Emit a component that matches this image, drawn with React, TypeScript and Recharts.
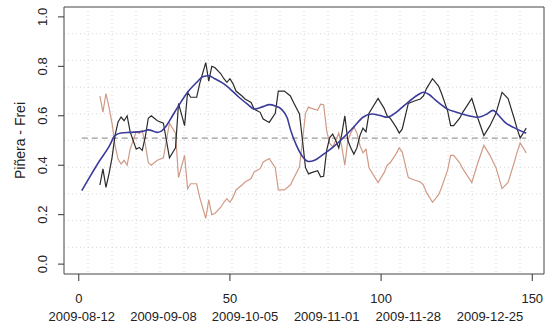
import {
  CartesianGrid,
  Line,
  LineChart,
  ReferenceArea,
  ReferenceLine,
  XAxis,
  YAxis,
} from "recharts";

// daily share series
const dailyDays = [
  7, 8, 9, 10, 11, 12, 13, 14, 15, 16, 17, 19, 20, 21, 22, 23, 24, 26, 28, 29,
  30, 32, 33, 35, 36, 37, 39, 40, 42, 43, 44, 45, 47, 48, 49, 50, 51, 52, 54,
  55, 57, 58, 60, 61, 63, 65, 66, 68, 70, 71, 73, 74, 75, 76, 77, 79, 80, 81,
  82, 83, 84, 85, 86, 87, 88, 89, 90, 91, 92, 93, 94, 95, 96, 99, 101, 102, 103,
  105, 106, 107, 109, 111, 113, 114, 115, 117, 119, 120, 122, 123, 124, 126,
  127, 130, 132, 134, 136, 138, 140, 142, 144, 145, 146, 148,
];

const pineraShare = [
  0.32, 0.385, 0.31, 0.365, 0.43, 0.52, 0.575, 0.595, 0.58, 0.6, 0.535, 0.465,
  0.472, 0.46, 0.515, 0.59, 0.6, 0.58, 0.57, 0.5, 0.43, 0.47, 0.65, 0.56, 0.695,
  0.675, 0.675, 0.73, 0.815, 0.74, 0.8, 0.795, 0.77, 0.75, 0.735, 0.75, 0.73,
  0.7, 0.68, 0.668, 0.654, 0.627, 0.614, 0.587, 0.573, 0.61, 0.7, 0.7, 0.68,
  0.655, 0.607, 0.5, 0.39, 0.365, 0.37, 0.378, 0.353, 0.355, 0.46, 0.512, 0.526,
  0.5, 0.47, 0.526, 0.6, 0.5, 0.47, 0.445, 0.47, 0.52, 0.55, 0.535, 0.61, 0.67,
  0.63, 0.6, 0.59, 0.553, 0.53, 0.547, 0.65, 0.66, 0.668, 0.68, 0.71, 0.75,
  0.72, 0.69, 0.62, 0.56, 0.56, 0.59, 0.614, 0.67, 0.59, 0.52, 0.56, 0.61,
  0.695, 0.67, 0.59, 0.547, 0.51, 0.55,
];

const freiShare = [
  0.68, 0.615, 0.69, 0.635, 0.57, 0.48, 0.425, 0.405, 0.42, 0.4, 0.465, 0.535,
  0.528, 0.54, 0.485, 0.41, 0.4, 0.42, 0.43, 0.5, 0.57, 0.53, 0.35, 0.44, 0.305,
  0.325, 0.325, 0.27, 0.185, 0.26, 0.2, 0.205, 0.23, 0.25, 0.265, 0.25, 0.27,
  0.3, 0.32, 0.332, 0.346, 0.373, 0.386, 0.413, 0.427, 0.39, 0.3, 0.3, 0.32,
  0.345, 0.393, 0.5, 0.61, 0.635, 0.63, 0.622, 0.647, 0.645, 0.54, 0.488, 0.474,
  0.5, 0.53, 0.474, 0.4, 0.5, 0.53, 0.555, 0.53, 0.48, 0.45, 0.465, 0.39, 0.33,
  0.37, 0.4, 0.41, 0.447, 0.47, 0.453, 0.35, 0.34, 0.332, 0.32, 0.29, 0.25,
  0.28, 0.31, 0.38, 0.44, 0.44, 0.41, 0.386, 0.33, 0.41, 0.48, 0.44, 0.39,
  0.305, 0.33, 0.41, 0.453, 0.49, 0.45,
];

// smoothed trend
const trendDays = [
  1, 4, 7, 10, 12, 14, 17, 21, 23, 26, 27, 29, 31, 33, 36, 39, 41, 43, 45, 48,
  50, 53, 56, 58, 61, 63, 65, 67, 69, 70, 72, 74, 76, 78, 81, 84, 87, 91, 94,
  97, 100, 102, 105, 108, 112, 114, 116, 118, 122, 125, 128, 132, 135, 137, 139,
  141, 144, 148,
];

const trendShare = [
  0.297, 0.36, 0.42, 0.475, 0.52, 0.53, 0.533, 0.537, 0.543, 0.533, 0.536, 0.56,
  0.6, 0.64, 0.695, 0.735, 0.758, 0.762, 0.75, 0.729, 0.709, 0.675, 0.645, 0.627,
  0.637, 0.645, 0.64, 0.627, 0.59, 0.545, 0.48, 0.435, 0.415, 0.42, 0.445, 0.472,
  0.505, 0.555, 0.594, 0.607, 0.6, 0.594, 0.614, 0.645, 0.683, 0.695, 0.685,
  0.663, 0.627, 0.614, 0.603, 0.594, 0.607, 0.622, 0.6, 0.573, 0.552, 0.529,
];

const meanShare = 0.51;
const firstDay = 1;
const lastDay = 148;

const numTicks = [0, 50, 100, 150];
const dateTicks = [1, 28, 55, 82, 109, 136];
const dateLabels = [
  "2009-08-12",
  "2009-09-08",
  "2009-10-05",
  "2009-11-01",
  "2009-11-28",
  "2009-12-25",
];
const yTicks = [0, 0.2, 0.4, 0.6, 0.8, 1.0];

const zip = (xs: number[], ys: number[]) => xs.map((x, i) => ({ x, y: ys[i] }));

const pineraData = zip(dailyDays, pineraShare);
const freiData = zip(dailyDays, freiShare);
const trendData = zip(trendDays, trendShare);

// R-style 4% axis padding
const xPad = 0.04 * (lastDay - firstDay);
const xDomain: [number, number] = [firstDay - xPad, lastDay + xPad];
const yDomain: [number, number] = [-0.04, 1.04];

const FONT = "'Liberation Sans', Arial, sans-serif";
const INK = "#222";

const NumTick = ({ x, y, payload }: any) => (
  <text x={x} y={y} dy="0.71em" textAnchor="middle" fontSize={13} fontFamily={FONT} fill={INK}>
    {payload.value}
  </text>
);

const DateTick = ({ x, y, payload }: any) => (
  <text x={x} y={y} dy="0.71em" textAnchor="middle" fontSize={13} fontFamily={FONT} fill={INK}>
    {dateLabels[dateTicks.indexOf(payload.value)]}
  </text>
);

const YTick = ({ x, y, payload }: any) => (
  <text
    x={x}
    y={y}
    transform={`rotate(-90 ${x} ${y})`}
    textAnchor="middle"
    fontSize={13}
    fontFamily={FONT}
    fill={INK}
  >
    {Number(payload.value).toFixed(1)}
  </text>
);

const YLabel = ({ viewBox }: any) => {
  const cx = 25;
  const cy = viewBox.y + viewBox.height / 2;
  return (
    <text
      x={cx}
      y={cy}
      transform={`rotate(-90 ${cx} ${cy})`}
      textAnchor="middle"
      fontSize={14}
      fontFamily={FONT}
      fill={INK}
    >
      Piñera - Frei
    </text>
  );
};

export default function App() {
  return (
    <div style={{ position: "absolute", left: 0, top: 0, width: 550, height: 327, background: "#fff" }}>
      <LineChart width={550} height={327} margin={{ top: 7, right: 6, left: 0, bottom: 0 }}>
        <CartesianGrid
          stroke="#d6d6d6"
          strokeDasharray="1 3"
          horizontalCoordinatesGenerator={({ offset }: any) =>
            Array.from({ length: 9 }, (_, k) => offset.top + ((k + 1) * offset.height) / 10)
          }
          verticalCoordinatesGenerator={({ offset }: any) =>
            Array.from({ length: 19 }, (_, k) => offset.left + ((k + 1) * offset.width) / 20)
          }
        />
        <XAxis
          xAxisId={0}
          dataKey="x"
          type="number"
          domain={xDomain}
          allowDataOverflow
          ticks={numTicks}
          interval={0}
          axisLine={false}
          tickLine={{ stroke: "#333" }}
          tickSize={7}
          tickMargin={13}
          height={30}
          tick={<NumTick />}
        />
        <XAxis
          xAxisId={1}
          dataKey="x"
          type="number"
          domain={xDomain}
          allowDataOverflow
          ticks={dateTicks}
          interval={0}
          axisLine={false}
          tickLine={false}
          tickSize={0}
          tickMargin={8}
          height={23}
          tick={<DateTick />}
        />
        <YAxis
          type="number"
          domain={yDomain}
          allowDataOverflow
          ticks={yTicks}
          interval={0}
          width={64}
          axisLine={false}
          tickLine={{ stroke: "#333" }}
          tickSize={6}
          tickMargin={11}
          tick={<YTick />}
          label={{ content: <YLabel /> }}
        />
        <ReferenceLine
          xAxisId={0}
          segment={[
            { x: firstDay, y: meanShare },
            { x: lastDay, y: meanShare },
          ]}
          stroke="#9a9a9a"
          strokeWidth={1.2}
          strokeDasharray="6 4"
        />
        <Line
          xAxisId={0}
          data={freiData}
          dataKey="y"
          type="linear"
          stroke="#d19a86"
          strokeWidth={1.2}
          dot={false}
          isAnimationActive={false}
        />
        <Line
          xAxisId={0}
          data={pineraData}
          dataKey="y"
          type="linear"
          stroke="#2b2b2b"
          strokeWidth={1.2}
          dot={false}
          isAnimationActive={false}
        />
        <Line
          xAxisId={0}
          data={trendData}
          dataKey="y"
          type="monotone"
          stroke="#3b3b9b"
          strokeWidth={1.6}
          dot={false}
          isAnimationActive={false}
        />
        <ReferenceArea
          xAxisId={0}
          x1={xDomain[0]}
          x2={xDomain[1]}
          y1={yDomain[0]}
          y2={yDomain[1]}
          fill="none"
          stroke="#444"
          strokeWidth={1}
        />
      </LineChart>
    </div>
  );
}
